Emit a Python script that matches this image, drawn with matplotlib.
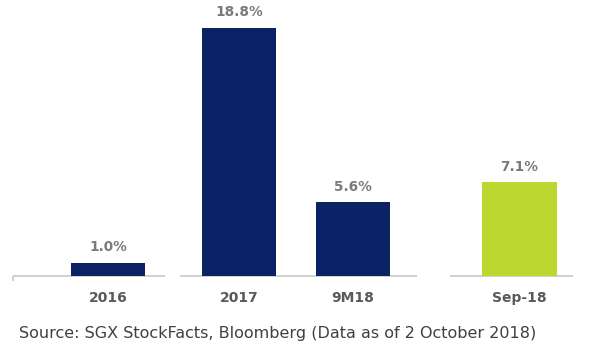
import matplotlib.pyplot as plt

categories = ["2016", "2017", "9M18", "Sep-18"]
values = [1.0, 18.8, 5.6, 7.1]
labels = ["1.0%", "18.8%", "5.6%", "7.1%"]
colors = ["#0c2266", "#0c2266", "#0c2266", "#bdd731"]

# uneven spacing as in the original slide
positions = [0, 1, 1.87, 3.14]

fig = plt.figure(figsize=(5.99, 3.61), dpi=100)
ax = fig.add_axes([0.02, 0.2355, 0.943, 0.7645])

ax.bar(positions, values, width=0.57, color=colors, zorder=2)
for x, v, lab in zip(positions, values, labels):
    ax.annotate(lab, (x, v), xytext=(0, 6), textcoords="offset points",
                ha="center", va="bottom", fontsize=9.8, fontweight="bold",
                color="#7a7a7a")

# baseline drawn in pieces, with small breaks between some categories
base_segments = [(-0.725, 0.435), (0.55, 2.36), (2.61, 3.55)]
for x0, x1 in base_segments:
    ax.hlines(0, x0, x1, color="#c8c8c8", linewidth=1.2, zorder=1, clip_on=False)
ax.vlines(-0.725, -0.35, 0, color="#c8c8c8", linewidth=1.2, clip_on=False)

ax.set_xlim(-0.733, 3.58)
ax.set_ylim(0, 20.9)
ax.set_xticks(positions)
ax.set_xticklabels(categories, fontsize=10, fontweight="bold", color="#5a5a5a")
ax.tick_params(axis="x", length=0, pad=11)
ax.set_yticks([])
for side in ["top", "right", "left", "bottom"]:
    ax.spines[side].set_visible(False)

fig.text(0.032, 0.077, "Source: SGX StockFacts, Bloomberg (Data as of 2 October 2018)",
         fontsize=11.5, color="#404040", ha="left", va="center")

fig.savefig("out.png", dpi=100)
